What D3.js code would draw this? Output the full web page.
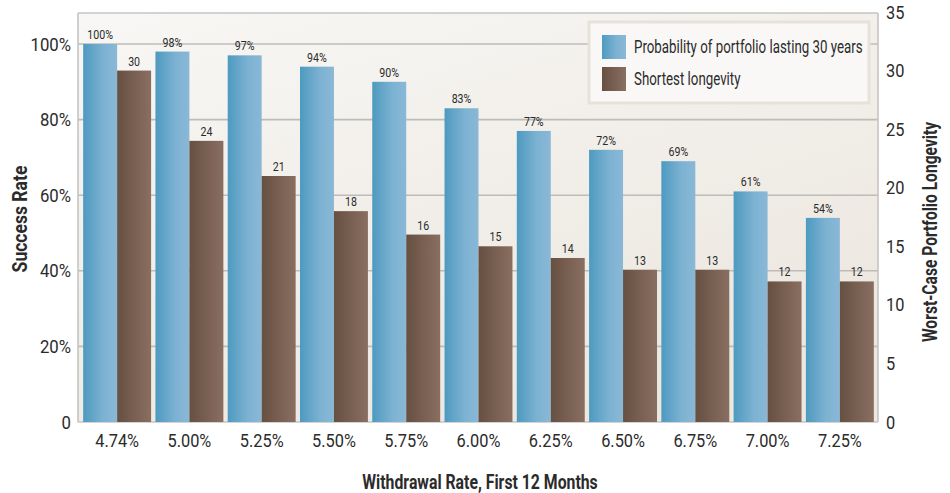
<!DOCTYPE html>
<html>
<head>
<meta charset="utf-8">
<script src="https://cdn.jsdelivr.net/npm/d3@7"></script>
<style>
  html, body { margin: 0; padding: 0; background: #ffffff; }
  svg { display: block; }
  text { font-family: "Roboto", "Liberation Sans", sans-serif; fill: #2b2b2b; }
</style>
</head>
<body>
<svg id="chart" width="950" height="493"></svg>
<script>
// Withdrawal rates in the first 12 months
const rates = ["4.74%", "5.00%", "5.25%", "5.50%", "5.75%", "6.00%", "6.25%", "6.50%", "6.75%", "7.00%", "7.25%"];
// Probability of the portfolio lasting 30 years (%)
const success = [100, 98, 97, 94, 90, 83, 77, 72, 69, 61, 54];
// Shortest longevity (years)
const longevity = [30, 24, 21, 18, 16, 15, 14, 13, 13, 12, 12];
// Axis ticks
const leftTicks = [0, 20, 40, 60, 80, 100];
const rightTicks = [0, 5, 10, 15, 20, 25, 30, 35];
const seriesNames = ["Probability of portfolio lasting 30 years", "Shortest longevity"];

const svg = d3.select("#chart");
const plot = { left: 78, right: 878, top: 13, bottom: 422 };

const x = d3.scaleBand().domain(rates).range([81, 876]).paddingInner(0.06).paddingOuter(0.03);
const xs = d3.scaleBand().domain([0, 1]).range([0, x.bandwidth()]);
const yL = d3.scaleLinear().domain([0, 100]).range([plot.bottom, 44]);
const yR = d3.scaleLinear().domain([0, 35]).range([plot.bottom, 12]);

// Narrow every text in a selection horizontally (condensed face look)
function condense(sel, factor) {
  sel.each(function () {
    const w = this.getComputedTextLength();
    if (w > 0) {
      d3.select(this).attr("textLength", w * factor).attr("lengthAdjust", "spacingAndGlyphs");
    }
  });
}

// Gradients
const defs = svg.append("defs");
const bg = defs.append("linearGradient").attr("id", "bg").attr("x1", 0).attr("y1", 0).attr("x2", 0.6).attr("y2", 1);
bg.append("stop").attr("offset", "0%").attr("stop-color", "#f8f7f5");
bg.append("stop").attr("offset", "100%").attr("stop-color", "#ece7df");

const gBlue = defs.append("linearGradient").attr("id", "gBlue").attr("x1", 0).attr("x2", 1).attr("y1", 0).attr("y2", 0);
gBlue.append("stop").attr("offset", "0%").attr("stop-color", "#4d9ac0");
gBlue.append("stop").attr("offset", "60%").attr("stop-color", "#7db2d2");
gBlue.append("stop").attr("offset", "100%").attr("stop-color", "#8ab8d6");

const gBrown = defs.append("linearGradient").attr("id", "gBrown").attr("x1", 0).attr("x2", 1).attr("y1", 0).attr("y2", 0);
gBrown.append("stop").attr("offset", "0%").attr("stop-color", "#665042");
gBrown.append("stop").attr("offset", "100%").attr("stop-color", "#8a6f61");

// Plot background
svg.append("rect")
  .attr("x", plot.left).attr("y", plot.top)
  .attr("width", plot.right - plot.left).attr("height", plot.bottom - plot.top)
  .attr("fill", "url(#bg)");

// Gridlines
svg.append("g").selectAll("line").data(leftTicks.filter(d => d > 0)).join("line")
  .attr("x1", plot.left).attr("x2", plot.right)
  .attr("y1", d => yL(d)).attr("y2", d => yL(d))
  .attr("stroke", "#bdbcba").attr("stroke-width", 1.6);

// Frame
const frame = svg.append("g").attr("stroke", "#c6c5c3").attr("stroke-width", 1.6).attr("fill", "none");
frame.append("line").attr("x1", plot.left).attr("x2", plot.right).attr("y1", plot.top).attr("y2", plot.top);
frame.append("line").attr("x1", plot.left).attr("x2", plot.left).attr("y1", plot.top).attr("y2", plot.bottom);
frame.append("line").attr("x1", plot.right).attr("x2", plot.right).attr("y1", plot.top).attr("y2", plot.bottom);
frame.append("line").attr("x1", plot.left).attr("x2", plot.right).attr("y1", plot.bottom).attr("y2", plot.bottom);

// Bars
const groups = svg.append("g").selectAll("g").data(rates).join("g")
  .attr("transform", d => `translate(${x(d)},0)`);

groups.append("rect")
  .attr("x", xs(0)).attr("width", xs.bandwidth())
  .attr("y", (d, i) => yL(success[i]))
  .attr("height", (d, i) => yL(0) - yL(success[i]))
  .attr("fill", "url(#gBlue)");

groups.append("rect")
  .attr("x", xs(1)).attr("width", xs.bandwidth())
  .attr("y", (d, i) => yR(longevity[i]))
  .attr("height", (d, i) => yR(0) - yR(longevity[i]))
  .attr("fill", "url(#gBrown)");

// Value labels
const vl1 = groups.append("text")
  .attr("x", xs(0) + xs.bandwidth() / 2)
  .attr("y", (d, i) => yL(success[i]) - 5)
  .attr("text-anchor", "middle").attr("font-size", 12.5)
  .text((d, i) => success[i] + "%");

const vl2 = groups.append("text")
  .attr("x", xs(1) + xs.bandwidth() / 2)
  .attr("y", (d, i) => yR(longevity[i]) - 5)
  .attr("text-anchor", "middle").attr("font-size", 12.5)
  .text((d, i) => longevity[i]);
condense(vl1, 0.85);
condense(vl2, 0.85);

// Left axis
const axL = svg.append("g").attr("transform", `translate(${plot.left},0)`)
  .call(d3.axisLeft(yL).tickValues(leftTicks).tickSize(0).tickPadding(7)
    .tickFormat(d => d === 0 ? "0" : d + "%"));
axL.select(".domain").remove();
axL.selectAll("text").attr("font-size", 19).attr("font-family", null).attr("fill", "#2b2b2b");
condense(axL.selectAll("text"), 0.88);

// Right axis
const axR = svg.append("g").attr("transform", `translate(${plot.right},0)`)
  .call(d3.axisRight(yR).tickValues(rightTicks).tickSize(0).tickPadding(8));
axR.select(".domain").remove();
axR.selectAll("text").attr("font-size", 19).attr("font-family", null).attr("fill", "#2b2b2b");
condense(axR.selectAll("text"), 0.86);

// Bottom axis
const axB = svg.append("g").attr("transform", `translate(0,${plot.bottom})`)
  .call(d3.axisBottom(x).tickSize(0).tickPadding(12));
axB.select(".domain").remove();
axB.selectAll("text").attr("font-size", 19).attr("font-family", null).attr("fill", "#2b2b2b");
condense(axB.selectAll("text"), 0.86);

// Axis titles
const t1 = svg.append("text").attr("x", 480).attr("y", 489).attr("text-anchor", "middle")
  .attr("font-size", 19.5).attr("font-weight", "bold").text("Withdrawal Rate, First 12 Months");
const t2 = svg.append("text").attr("transform", "translate(27,219) rotate(-90)").attr("text-anchor", "middle")
  .attr("font-size", 19.5).attr("font-weight", "bold").text("Success Rate");
const t3 = svg.append("text").attr("transform", "translate(937,232) rotate(-90)").attr("text-anchor", "middle")
  .attr("font-size", 19.5).attr("font-weight", "bold").text("Worst-Case Portfolio Longevity");
condense(t1, 0.81);
condense(t2, 0.9);
condense(t3, 0.8);

// Legend
const lg = svg.append("g");
lg.append("rect").attr("x", 589).attr("y", 22).attr("width", 280).attr("height", 81)
  .attr("fill", "#f9f8f6").attr("stroke", "#e6e2da").attr("stroke-width", 3);
const legFills = ["url(#gBlue)", "url(#gBrown)"];
seriesNames.forEach((name, i) => {
  lg.append("rect").attr("x", 602).attr("y", 35 + i * 32).attr("width", 24).attr("height", 24)
    .attr("fill", legFills[i]);
  const t = lg.append("text").attr("x", 634).attr("y", 53 + i * 32).attr("font-size", 17.5).text(name);
  condense(t, 0.76);
});
</script>
</body>
</html>
